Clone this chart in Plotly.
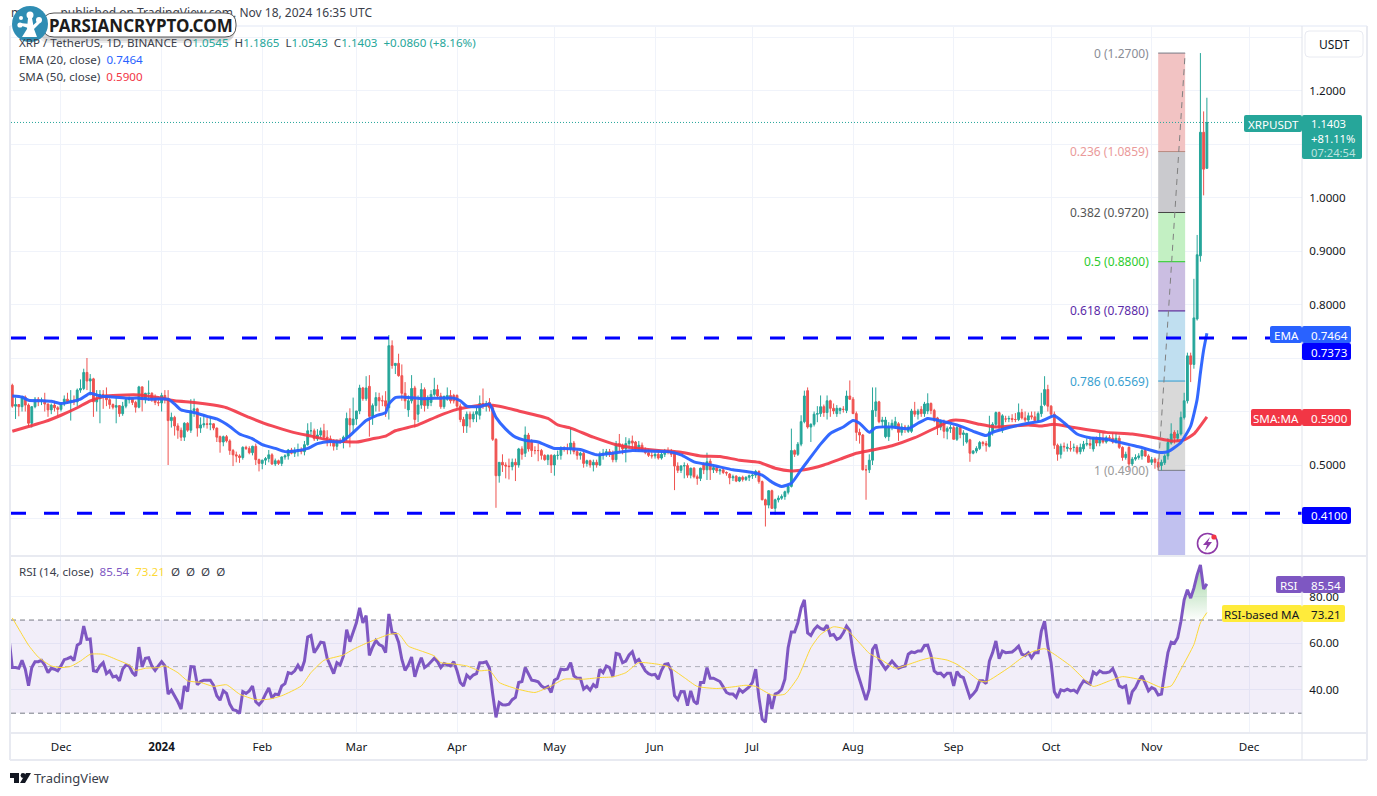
import pandas as pd
import plotly.graph_objects as go

# ---------- data ----------
start_candle = "2023-11-16"
open_price = [
 .649,.610,.613,.609,.627,.612,.578,.609,.623,.620,
 .621,.614,.603,.612,.607,.604,.614,.623,.618,.621,
 .618,.640,.643,.673,.657,.661,.618,.624,.632,.631,
 .622,.613,.608,.611,.596,.610,.622,.624,.617,.608,
 .646,.623,.634,.634,.623,.617,.616,.630,.623,.583,
 .589,.573,.565,.552,.578,.565,.602,.605,.569,.575,
 .577,.576,.577,.569,.553,.543,.553,.545,.527,.519,
 .517,.514,.533,.531,.523,.535,.510,.503,.509,.512,
 .519,.502,.508,.503,.515,.517,.528,.522,.527,.529,
 .525,.538,.564,.564,.549,.556,.564,.552,.549,.543,
 .535,.545,.542,.552,.587,.575,.586,.601,.644,.624,
 .647,.591,.611,.626,.620,.620,.607,.723,.686,.690,
 .667,.634,.603,.620,.644,.595,.612,.641,.611,.617,
 .632,.641,.629,.609,.623,.630,.630,.630,.610,.585,
 .573,.595,.586,.595,.593,.615,.610,.617,.607,.548,
 .480,.505,.500,.498,.497,.505,.500,.530,.522,.556,
 .545,.527,.527,.527,.518,.510,.518,.500,.518,.518,
 .531,.530,.530,.541,.525,.518,.522,.503,.508,.500,
 .505,.500,.519,.520,.525,.522,.510,.540,.537,.530,
 .540,.545,.543,.530,.537,.528,.523,.518,.517,.520,
 .513,.520,.527,.525,.523,.498,.490,.498,.499,.481,
 .494,.478,.475,.501,.491,.507,.491,.495,.489,.491,
 .486,.483,.476,.479,.470,.477,.473,.477,.480,.481,
 .488,.469,.435,.425,.452,.419,.435,.438,.441,.449,
 .460,.527,.520,.539,.581,.639,.571,.576,.595,.596,
 .609,.598,.620,.606,.596,.602,.604,.602,.629,.623,
 .596,.561,.556,.491,.491,.509,.602,.618,.581,.553,
 .553,.571,.571,.577,.561,.571,.563,.563,.601,.595,
 .604,.596,.601,.615,.602,.588,.571,.578,.563,.568,
 .570,.548,.570,.557,.543,.547,.522,.526,.531,.542,
 .540,.535,.562,.576,.598,.565,.586,.586,.587,.585,
 .585,.598,.588,.584,.592,.590,.583,.596,.613,.641,
 .610,.595,.537,.520,.535,.531,.531,.533,.533,.525,
 .530,.539,.540,.530,.551,.541,.550,.543,.551,.550,
 .543,.550,.533,.514,.533,.502,.511,.514,.517,.527,
 .517,.505,.511,.505,.499,.504,.517,.541,.561,.550,
 .558,.589,.620,.704,.688,.773,.891,1.122,1.0545]
high_price = [
 .652,.626,.614,.628,.630,.615,.610,.627,.627,.626,
 .635,.615,.615,.620,.610,.615,.630,.635,.640,.630,
 .643,.660,.680,.700,.670,.663,.640,.640,.640,.645,
 .625,.615,.626,.612,.618,.624,.628,.626,.620,.648,
 .647,.635,.658,.636,.632,.622,.635,.640,.640,.598,
 .592,.578,.570,.580,.580,.623,.624,.607,.589,.595,
 .589,.590,.578,.570,.555,.555,.556,.548,.530,.525,
 .520,.535,.536,.535,.536,.540,.512,.510,.515,.528,
 .522,.512,.510,.516,.520,.530,.532,.533,.540,.533,
 .545,.578,.580,.568,.567,.570,.577,.565,.555,.548,
 .548,.550,.555,.598,.606,.626,.600,.650,.646,.666,
 .668,.615,.636,.635,.630,.638,.743,.733,.690,.708,
 .688,.655,.630,.668,.648,.630,.653,.645,.630,.640,
 .663,.650,.635,.630,.645,.640,.633,.632,.615,.590,
 .600,.600,.600,.610,.630,.643,.620,.625,.612,.550,
 .505,.520,.505,.512,.512,.512,.532,.535,.572,.560,
 .548,.535,.540,.530,.520,.520,.520,.520,.527,.535,
 .535,.540,.570,.545,.530,.525,.525,.510,.510,.510,
 .510,.525,.530,.530,.530,.527,.545,.558,.540,.552,
 .550,.555,.545,.545,.542,.533,.530,.525,.525,.525,
 .525,.530,.533,.530,.525,.505,.500,.505,.503,.495,
 .496,.482,.495,.505,.523,.512,.498,.498,.493,.493,
 .488,.485,.482,.481,.478,.480,.479,.482,.483,.491,
 .490,.471,.437,.453,.454,.437,.443,.445,.452,.462,
 .568,.529,.543,.593,.639,.645,.578,.600,.610,.630,
 .613,.630,.622,.615,.612,.607,.610,.639,.658,.627,
 .600,.568,.558,.500,.520,.645,.645,.620,.590,.590,
 .580,.585,.590,.580,.578,.575,.575,.605,.618,.605,
 .610,.618,.634,.617,.605,.590,.585,.585,.572,.575,
 .574,.573,.575,.565,.560,.549,.528,.535,.545,.545,
 .545,.592,.580,.600,.600,.595,.592,.592,.595,.597,
 .615,.605,.600,.598,.600,.600,.600,.635,.666,.650,
 .612,.600,.540,.540,.542,.540,.545,.540,.537,.540,
 .545,.550,.550,.552,.553,.560,.561,.555,.556,.560,
 .560,.555,.535,.525,.535,.515,.520,.522,.530,.532,
 .520,.515,.514,.512,.510,.520,.550,.578,.565,.565,
 .600,.635,.710,.710,.848,.930,1.27,1.161,1.1865]
low_price = [
 .607,.586,.591,.600,.600,.572,.570,.606,.610,.612,
 .600,.590,.595,.600,.592,.600,.610,.615,.583,.612,
 .610,.635,.640,.640,.630,.590,.600,.578,.605,.610,
 .605,.604,.578,.590,.592,.606,.615,.612,.598,.606,
 .600,.615,.620,.618,.612,.610,.600,.615,.500,.570,
 .555,.549,.545,.545,.562,.560,.590,.553,.560,.570,
 .568,.565,.565,.543,.523,.535,.542,.519,.498,.505,
 .504,.510,.528,.520,.518,.500,.488,.492,.500,.505,
 .500,.498,.500,.498,.510,.510,.520,.515,.516,.520,
 .518,.536,.555,.545,.545,.550,.548,.535,.535,.527,
 .528,.540,.531,.545,.533,.558,.575,.595,.620,.620,
 .553,.575,.600,.600,.610,.590,.585,.680,.670,.665,
 .620,.605,.590,.615,.570,.580,.605,.600,.605,.610,
 .628,.625,.605,.605,.620,.615,.615,.605,.580,.560,
 .560,.570,.580,.580,.585,.605,.600,.600,.545,.420,
 .467,.487,.475,.473,.490,.470,.495,.510,.515,.525,
 .515,.520,.507,.510,.508,.500,.485,.480,.510,.510,
 .525,.520,.520,.520,.510,.510,.495,.497,.495,.488,
 .495,.498,.510,.515,.515,.505,.505,.525,.520,.505,
 .530,.530,.525,.525,.525,.520,.515,.512,.512,.510,
 .510,.515,.520,.515,.453,.485,.485,.475,.476,.475,
 .475,.463,.470,.483,.472,.472,.485,.485,.482,.483,
 .480,.464,.470,.468,.468,.469,.470,.470,.474,.476,
 .465,.434,.385,.419,.418,.407,.430,.435,.435,.445,
 .458,.515,.517,.535,.578,.568,.543,.572,.580,.590,
 .590,.585,.590,.595,.590,.595,.598,.597,.622,.596,
 .545,.540,.490,.435,.485,.500,.590,.578,.570,.550,
 .545,.565,.570,.545,.555,.560,.560,.560,.590,.585,
 .590,.590,.595,.595,.580,.556,.565,.550,.548,.560,
 .548,.545,.550,.536,.540,.506,.520,.522,.528,.535,
 .525,.533,.555,.570,.565,.560,.580,.580,.580,.580,
 .582,.585,.580,.580,.585,.580,.580,.590,.610,.600,
 .590,.530,.508,.512,.525,.525,.525,.525,.520,.520,
 .525,.535,.530,.525,.535,.535,.540,.540,.545,.540,
 .540,.530,.508,.510,.490,.498,.508,.510,.510,.515,
 .505,.500,.493,.490,.490,.500,.510,.538,.540,.545,
 .555,.585,.615,.655,.680,.770,.880,1.004,1.0543]
close_price = [
 .610,.613,.609,.627,.612,.578,.609,.623,.620,.621,
 .614,.603,.612,.607,.604,.614,.623,.618,.621,.618,
 .640,.643,.673,.657,.661,.618,.624,.632,.631,.622,
 .613,.608,.611,.596,.610,.622,.624,.617,.608,.646,
 .623,.634,.634,.623,.617,.616,.630,.623,.583,.589,
 .573,.565,.552,.578,.565,.601,.605,.569,.575,.577,
 .576,.577,.569,.552,.543,.553,.545,.527,.519,.517,
 .514,.533,.531,.523,.535,.510,.503,.509,.512,.519,
 .502,.508,.503,.515,.517,.528,.522,.527,.529,.525,
 .538,.564,.564,.549,.556,.564,.552,.549,.543,.535,
 .545,.542,.552,.587,.575,.586,.601,.644,.624,.644,
 .591,.611,.626,.620,.620,.610,.723,.686,.690,.667,
 .634,.620,.620,.643,.585,.612,.641,.611,.623,.632,
 .641,.629,.609,.628,.630,.620,.620,.610,.585,.573,
 .595,.586,.595,.600,.615,.612,.615,.607,.548,.480,
 .505,.500,.498,.497,.505,.500,.530,.520,.556,.530,
 .527,.527,.527,.518,.510,.518,.500,.518,.518,.531,
 .530,.530,.541,.525,.518,.522,.503,.508,.500,.505,
 .500,.519,.522,.525,.522,.510,.540,.537,.530,.540,
 .545,.541,.530,.537,.528,.523,.518,.517,.520,.513,
 .520,.527,.525,.520,.498,.490,.498,.499,.481,.494,
 .478,.475,.494,.491,.506,.491,.495,.489,.491,.486,
 .485,.476,.478,.470,.477,.473,.477,.480,.481,.488,
 .469,.435,.425,.452,.419,.435,.438,.441,.450,.460,
 .527,.520,.539,.581,.629,.571,.576,.595,.596,.609,
 .598,.620,.606,.601,.606,.606,.604,.629,.623,.596,
 .561,.556,.491,.491,.509,.602,.618,.581,.584,.584,
 .571,.578,.581,.561,.571,.570,.571,.601,.595,.601,
 .596,.614,.615,.602,.584,.571,.581,.563,.568,.570,
 .548,.570,.557,.560,.559,.522,.526,.531,.542,.540,
 .537,.562,.576,.598,.571,.592,.586,.587,.585,.585,
 .598,.588,.584,.592,.590,.583,.596,.610,.641,.610,
 .595,.537,.520,.535,.534,.533,.530,.533,.524,.533,
 .539,.540,.537,.551,.541,.551,.543,.551,.550,.543,
 .550,.533,.514,.520,.502,.511,.514,.517,.527,.517,
 .505,.510,.505,.496,.505,.517,.542,.558,.550,.558,
 .589,.620,.704,.688,.775,.893,1.122,1.053,1.1403]

# moving averages: day offset from 1 Dec 2023, value
ema_days = [-15,-12,-10,-6,-3,0,3,6,9,12,16,20,24,28,33,35,37,41,45,48,52,55,59,62,66,69,72,76,79,83,86,
 89,92,94,97,100,101,103,105,111,117,121,123,125,129,132,134,137,140,143,147,152,155,160,165,170,176,181,187,191,
 195,201,207,213,216,219,222,225,228,230,234,237,241,244,246,249,251,256,261,264,267,272,276,281,285,287,292,298,
 302,306,309,313,317,322,327,332,338,341,345,348,350,351,352,353]
ema_vals = [.629,.627,.621,.620,.619,.615,.618,.623,.634,.629,.627,.625,.625,.623,.623,.614,.603,.598,.591,.586,.572,.558,.549,.538,.531,.525,.526,.531,.540,.544,.543,
 .555,.572,.583,.592,.598,.614,.626,.627,.624,.625,.625,.620,.610,.609,.614,.589,.567,.552,.546,.543,.531,.531,.529,.519,.522,.527,.526,.525,.519,
 .506,.499,.491,.486,.481,.468,.460,.466,.491,.507,.539,.559,.571,.583,.578,.561,.570,.571,.568,.578,.587,.581,.575,.563,.555,.561,.570,.578,
 .582,.592,.579,.558,.551,.548,.541,.534,.524,.525,.542,.573,.623,.672,.715,.7464]
sma_days = [-15,-10,-5,0,5,9,14,20,24,30,35,41,47,51,58,65,71,77,83,91,96,100,103,110,116,122,127,131,135,141,150,153,157,164,171,178,184,
 191,197,203,209,215,220,225,229,235,240,245,250,256,263,270,274,278,283,288,298,302,306,312,322,330,337,342,346,349,353]
sma_vals = [.563,.572,.581,.593,.607,.620,.629,.631,.631,.626,.620,.617,.612,.607,.589,.573,.562,.554,.546,.543,.549,.554,.564,.575,.591,.604,.610,.612,.610,.601,.587,.575,.569,.552,.538,.531,.527,
 .524,.517,.516,.509,.505,.494,.489,.491,.500,.511,.522,.528,.536,.551,.571,.583,.583,.576,.571,.575,.573,.576,.570,.561,.558,.551,.545,.547,.558,.590]

start_rsi = "2023-11-15"
rsi_vals = [
 62,49.6,49.6,49.3,52.7,48.9,41.8,49.6,52.1,52.1,
 52.7,50.6,47.4,49.3,48.9,48.2,50.3,53,53.4,54.1,
 52.7,59.2,60.1,67.4,61.7,61.9,48.2,47.9,50.3,51.7,
 47,48.2,45.6,46,43.9,48.9,50.7,50.3,47.4,46,
 58.4,49.9,53.6,53.8,50.3,48.4,50.3,52.1,50.3,38.2,
 39.9,37.5,34.9,31.8,41.7,39.3,50,49.9,42.2,43.6,
 44.2,44.2,44.2,42,37.5,35.6,39.6,38.5,33.9,31.5,
 31.1,29.9,39.3,38.5,39.6,41.7,34.9,33.6,35.3,38.2,
 40.8,36.5,38.2,37.9,41.7,42.7,47.4,47,48.2,50.6,
 48.2,52.4,62.7,63.4,56,58.1,60.5,60.2,53.6,50.3,
 47,51.7,50.7,54.6,65.9,60.7,64.5,68.8,75.2,68.8,
 71.9,54.8,58.4,61.2,59.5,58.8,56,72.6,64.5,64.2,
 60.5,53.1,48.4,50.7,54.1,45.6,50.3,53.8,49.6,50.6,
 52.1,53.6,52.1,49.6,51.3,50.7,50.3,52.1,48.2,43.2,
 41.7,46.4,45,46.4,47,51.7,51.7,52.1,49.3,38.2,
 28.2,34.6,33.6,33.5,33.9,35.8,36.8,43.2,43.6,49.6,
 47.2,44.2,43.9,43.5,41.7,40.8,41.5,38.9,44.2,45,
 48.9,48.7,48.9,51.7,46,45,45,40.3,41.5,39.9,
 42.3,41,48.9,47.4,50.3,49.6,45.6,55.7,55.3,51.7,
 52.4,55,56.4,52,53.1,50.3,48.2,47,46.4,46.7,
 44.6,48.4,51,51.3,48.2,37.5,35.8,39.3,39.2,33.2,
 39.6,35.1,33.9,43.2,43.2,49.6,45,45,44.2,43.6,
 41.3,38.9,38.2,38.2,36.8,40.3,39,40.3,41.3,43.2,
 48.9,36.8,27.5,26.1,38.2,31.8,38.2,38.9,40.3,44.6,
 58.1,64.9,64.9,68.8,75.2,78.7,64.5,63.4,65.9,67.4,
 66.4,65.9,67.8,63.4,63.8,61.7,62.4,64.5,67.4,65.5,
 56,48.9,44.6,39.6,35.6,40.3,57.4,59.5,53.1,51,
 48.9,50.6,52.4,50.7,49.3,49.9,50.3,55.3,56.3,56,
 56.7,56.7,59.1,59.2,54.8,48.2,47,47.2,45.7,47.2,
 47.2,41.7,47.9,45.9,45.3,41,36.8,38.2,40,43.9,
 43.9,42.7,52.4,56,61,53.4,56.7,56,56.3,56.3,
 57.4,58.8,55.3,54.8,56,53.8,56,56,65.2,69.5,
 58.8,51.7,39.2,36.6,40,39.6,40.3,39.6,39.9,38.9,
 41.7,43.9,43.2,42.5,47.7,46.6,48.2,47.4,47.4,47.7,
 49.1,46,41.7,41,41.7,33.9,39.2,41,43.9,46,
 42.9,39.6,41,40.3,37.8,38.2,47.4,56,60.5,60,
 62.4,69.5,78.7,83,79.4,83.7,89.4,93.7,83.3,85.54]
rsi_ma_days = [-15,-12,-10,-7,-3,0,3,6,9,13,17,21,23,26,30,32,36,39,43,47,51,55,60,64,68,74,77,81,87,90,94,97,101,104,107,111,115,117,
 120,125,129,132,135,140,146,151,155,161,166,170,174,178,184,187,192,196,202,207,211,214,219,223,227,231,234,238,242,246,249,253,257,261,
 265,268,273,276,279,283,285,292,296,299,303,306,311,315,318,323,327,334,339,342,345,349,351,353]
rsi_ma_vals = [70.9,63.8,59.2,54.1,50.3,49.6,50.1,52.4,55.3,55.3,53.1,50.7,48.4,49.3,49.6,50.3,47.4,43.9,43.2,41.5,42.2,38.2,35.8,36,37.5,41.7,47.4,52.7,55,57.4,60,61.7,63.8,64.1,58.8,56.7,54.6,51.7,
 51.3,50.3,48.2,48.4,43.2,40.6,38.9,41.7,44.6,44.6,45.3,45.6,47.4,51.7,51,50,45.3,41.5,40.6,41.3,42,41.5,37.8,38.2,45.3,58.1,63.8,67.1,65.9,60.2,55.7,52.7,49.3,50.9,
 52.8,53.8,52.8,51,48.2,43.9,43.5,49.6,53.8,56.3,57.7,55.3,50.3,44.9,41.5,43.9,45.7,43.9,41,41.7,48.9,59.5,68.8,73.21]

fib_ratios = ["0","0.236","0.382","0.5","0.618","0.786","1"]
fib_prices = [1.27,1.0859,.972,.88,.788,.6569,.49]
fib_fills = ["#f2c3c3","#cacace","#c3f0c3","#cbbee2","#c0dff0","#d9d9d9","#c1c1ef"]
fib_lines = ["#787b86","#b98a80","#444444","#22cc22","#4a148c","#2e9ccf","#787b86"]
fib_text = ["#8a8d96","#ea9a9a","#555555","#2ecc2e","#5b2aa8","#3a9fd0","#9a9a9a"]
support_levels = [.7373,.41]
month_ticks = ["2023-12-01","2024-01-01","2024-02-01","2024-03-01","2024-04-01","2024-05-01","2024-06-01","2024-07-01","2024-08-01","2024-09-01","2024-10-01","2024-11-01","2024-12-01"]
month_labels = ["Dec","<b>2024</b>","Feb","Mar","Apr","May","Jun","Jul","Aug","Sep","Oct","Nov","Dec"]
price_ticks = [.4,.5,.6,.7,.8,.9,1.0,1.1,1.2,1.3]
price_labels = ["","0.5000","","","0.8000","0.9000","1.0000","","1.2000",""]
rsi_ticks = [40,60,80]
rsi_labels = ["40.00","60.00","80.00"]

# ---------- helpers ----------
W, H = 1377, 796
FONT = "Noto Sans"
TEAL, RED, BLUE, SMA_RED, PURPLE, YELLOW = "#26a69a", "#ef5350", "#2962ff", "#f23645", "#7e57c2", "#ffeb3b"
GRID = "#f0f3fa"
BASE = pd.Timestamp("2023-12-01")
def day(d):
    return (BASE + pd.Timedelta(minutes=round(d * 1440))).strftime("%Y-%m-%d %H:%M")
def paper_y(px):
    return 1 - px / H

X_RANGE = [day(-15.4), day(382.3)]
candle_dates = [d.strftime("%Y-%m-%d") for d in pd.date_range(start_candle, periods=len(close_price))]
rsi_dates = [d.strftime("%Y-%m-%d") for d in pd.date_range(start_rsi, periods=len(rsi_vals))]

fig = go.Figure()
fig.add_trace(go.Candlestick(x=candle_dates, open=open_price, high=high_price, low=low_price, close=close_price,
    xaxis="x", yaxis="y", whiskerwidth=0, showlegend=False,
    increasing=dict(line=dict(color=TEAL, width=1), fillcolor=TEAL),
    decreasing=dict(line=dict(color=RED, width=1), fillcolor=RED)))
fig.add_trace(go.Scatter(x=[day(d) for d in sma_days], y=sma_vals, mode="lines", xaxis="x", yaxis="y",
    line=dict(color=SMA_RED, width=3, shape="spline", smoothing=0.5), opacity=.9, showlegend=False))
fig.add_trace(go.Scatter(x=[day(d) for d in ema_days], y=ema_vals, mode="lines", xaxis="x", yaxis="y",
    line=dict(color=BLUE, width=3, shape="spline", smoothing=0.5), opacity=.95, showlegend=False))
fib_days = [338, 346.3]
fig.add_trace(go.Scatter(x=[day(d) for d in fib_days], y=[fib_prices[-1], fib_prices[0]], mode="lines", xaxis="x", yaxis="y",
    line=dict(color="#808080", width=1, dash="6px,5px"), showlegend=False))

# RSI pane
hot = [i for i, v in enumerate(rsi_vals) if v >= 69 and i > 350]
hot_x = [rsi_dates[i] for i in hot]
fig.add_trace(go.Scatter(x=hot_x + hot_x[::-1], y=[rsi_vals[i] for i in hot] + [70] * len(hot), mode="lines",
    fill="toself", line=dict(width=0), xaxis="x2", yaxis="y2", showlegend=False, hoverinfo="skip",
    fillgradient=dict(type="vertical", colorscale=[[0, "rgba(76,175,80,0)"], [1, "rgba(76,175,80,0.55)"]])))
fig.add_trace(go.Scatter(x=rsi_dates, y=rsi_vals, mode="lines", xaxis="x2", yaxis="y2",
    line=dict(color=PURPLE, width=3), showlegend=False))
fig.add_trace(go.Scatter(x=[day(d) for d in rsi_ma_days], y=rsi_ma_vals, mode="lines", xaxis="x2", yaxis="y2",
    line=dict(color="#fdd835", width=1, shape="spline", smoothing=0.5), showlegend=False))
# page-pixel overlay: header text sits beneath the logo shapes
fig.add_trace(go.Scatter(x=[11, 372], y=[14, 14], mode="text", xaxis="x3", yaxis="y3", hoverinfo="skip",
    text=["m", "published on TradingView.com, Nov 18, 2024 16:35 UTC"], textposition=["middle right", "middle left"],
    textfont=dict(family=FONT, size=12, color="#3a3e4a"), showlegend=False))

shapes = []
# fib blocks
fib_edges = fib_prices + [0.3299]
for i, col in enumerate(fib_fills):
    shapes.append(dict(type="rect", xref="x", yref="y", x0=day(fib_days[0]), x1=day(fib_days[1]),
                       y0=fib_edges[i + 1], y1=fib_edges[i], fillcolor=col, line_width=0, layer="between"))
for p, col in zip(fib_prices, fib_lines):
    shapes.append(dict(type="line", xref="x", yref="y", x0=day(fib_days[0]), x1=day(fib_days[1]), y0=p, y1=p,
                       line=dict(color=col, width=1), layer="between"))
# support lines and last price
for p in support_levels:
    shapes.append(dict(type="line", xref="x", yref="y", x0=X_RANGE[0], x1=X_RANGE[1], y0=p, y1=p,
                       line=dict(color="#0000ff", width=3, dash="15px,18px"), layer="above"))
shapes.append(dict(type="line", xref="x", yref="y", x0=X_RANGE[0], x1=X_RANGE[1], y0=close_price[-1], y1=close_price[-1],
                   line=dict(color=TEAL, width=1, dash="1px,2px"), layer="above"))
# RSI band
shapes.append(dict(type="rect", xref="x2", yref="y2", x0=X_RANGE[0], x1=X_RANGE[1], y0=30, y1=70,
                   fillcolor="rgba(126,87,194,0.1)", line_width=0, layer="between"))
for v, c in ((70, "#787b86"), (50, "rgba(120,123,134,0.55)"), (30, "#787b86")):
    shapes.append(dict(type="line", xref="x2", yref="y2", x0=X_RANGE[0], x1=X_RANGE[1], y0=v, y1=v,
                       line=dict(color=c, width=1, dash="5px,4px"), layer="between"))

def px_line(x0, y0, x1, y1, color, width=1):
    shapes.append(dict(type="line", xref="x3", yref="y3", x0=x0, y0=y0, x1=x1, y1=y1,
                       line=dict(color=color, width=width), layer="above"))
def rrect(x0, y0, x1, y1, r, fill, line=None, lw=1, opacity=1.0):
    p = (f"M{x0+r},{y0} L{x1-r},{y0} Q{x1},{y0} {x1},{y0+r} L{x1},{y1-r} Q{x1},{y1} {x1-r},{y1} "
         f"L{x0+r},{y1} Q{x0},{y1} {x0},{y1-r} L{x0},{y0+r} Q{x0},{y0} {x0+r},{y0} Z")
    shapes.append(dict(type="path", path=p, xref="x3", yref="y3", fillcolor=fill, opacity=opacity,
                       line=dict(color=line or fill, width=lw if line else 0), layer="above"))
def poly(points, fill):
    p = "M" + " L".join(f"{x},{y}" for x, y in points) + " Z"
    shapes.append(dict(type="path", path=p, xref="x3", yref="y3", fillcolor=fill, line_width=0, layer="above"))
def circle(cx, cy, r, fill, line=None, lw=0):
    shapes.append(dict(type="circle", xref="x3", yref="y3", x0=cx - r, x1=cx + r, y0=cy - r, y1=cy + r,
                       fillcolor=fill, line=dict(color=line or fill, width=lw), layer="above"))

# chart frame
frame = "#e8eaf1"
px_line(10, 26, 1367, 26, GRID, 2)
px_line(10, 26, 10, 760, frame, 2)
px_line(1367, 26, 1367, 760, frame, 2)
px_line(10, 760, 1367, 760, frame, 2)
px_line(10, 556, 1367, 556, frame, 2)
px_line(10, 733, 1367, 733, frame, 2)
px_line(1302, 26, 1302, 760, "#e0e3eb", 1)
rrect(1305, 31, 1363, 57, 4, "#ffffff", "#e8eaf1", 1)

# value tags
rrect(1244, 115, 1302, 132, 2, TEAL)
rrect(1302, 115, 1362, 159, 2, TEAL)
rrect(1270, 326, 1302, 343, 2, BLUE)
rrect(1302, 326, 1351, 343, 2, BLUE)
rrect(1302, 343, 1351, 360, 2, "#0000ff")
rrect(1251, 409, 1302, 426, 2, SMA_RED)
rrect(1302, 409, 1351, 426, 2, SMA_RED)
rrect(1302, 507, 1351, 524, 2, "#0000ff")
rrect(1276, 576, 1302, 593, 2, PURPLE)
rrect(1302, 576, 1345, 593, 2, PURPLE)
rrect(1222, 605, 1302, 622, 2, YELLOW)
rrect(1302, 605, 1345, 622, 2, YELLOW)

# bolt badge
circle(1207.5, 543.5, 10, "rgba(255,255,255,0)", "#8e3aa8", 1.6)
poly([(1210, 537), (1203, 545), (1207, 545), (1205, 551), (1212, 542), (1208, 542)], "#8e3aa8")
circle(1214, 537, 2.6, SMA_RED)

# watermark logo
rrect(38, 19, 234, 43, 12, "rgba(60,60,60,0.10)")
rrect(40, 18, 235, 41, 11, "rgba(60,60,60,0.12)")
rrect(43, 13, 236, 37, 11, "#ffffff", "#555555", 1)
circle(30, 24, 18, "#2f8db3")
poly([(22, 37), (37, 37), (34, 29), (32, 18), (28, 18), (27, 29)], "#ffffff")
poly([(28, 28), (19, 25), (20, 23), (30, 24)], "#ffffff")
poly([(31, 27), (39, 20), (41, 22), (33, 30)], "#ffffff")
circle(30, 15, 3.5, "#ffffff")
circle(20, 25, 2.6, "#ffffff")
circle(39, 20, 3, "#ffffff")
circle(21, 18, 2, "#ffffff")
# TradingView mark
poly([(10, 773), (19, 773), (19, 783), (14, 783), (14, 778), (10, 778)], "#131722")
circle(23, 775.5, 2.4, "#131722")
poly([(26, 773), (31, 773), (25, 783), (20, 783)], "#131722")

# ---------- texts ----------
ann = []
def text(x, y, s, color="#131722", size=12, anchor="left", opacity=1.0):
    ann.append(dict(x=x, y=y, xref="x3", yref="y3", text=s, showarrow=False, xanchor=anchor, yanchor="middle",
                    align=anchor, opacity=opacity, font=dict(family=FONT, size=size, color=color), borderpad=0))
def tint(s, c):
    return f'<span style="color:{c}">{s}</span>'

dark = "#3a3e4a"
text(48, 25, "<b>PARSIANCRYPTO.COM</b>", "#1c1c1c", 17)
text(18, 42, tint("XRP / TetherUS, 1D, BINANCE", dark) + "  " + tint("O", dark) + tint("1.0545", TEAL) + "  " + tint("H", dark)
     + tint("1.1865", TEAL) + "  " + tint("L", dark) + tint("1.0543", TEAL) + "  " + tint("C", dark) + tint("1.1403", TEAL)
     + "  " + tint("+0.0860 (+8.16%)", TEAL), size=11.6)
text(18, 59, tint("EMA (20, close)", dark) + "  " + tint("0.7464", BLUE), size=11.6)
text(18, 76, tint("SMA (50, close)", dark) + "  " + tint("0.5900", SMA_RED), size=11.6)
text(18, 571, tint("RSI (14, close)", dark) + "  " + tint("85.54", PURPLE) + "  " + tint("73.21", "#fdd835") + "  "
     + tint("Ø  Ø  Ø  Ø", dark), size=11.6)
text(1334, 44, "USDT", "#131722", 12, "center")
for ratio, price, col, level in zip(fib_ratios, fib_prices, fib_text, fib_prices):
    y = 465 - (level - .5) * 535
    text(1150, y, f"{ratio} ({price:.4f})", col, 12, "right")

text(1273, 124, "XRPUSDT", "#ffffff", 11.6, "center")
text(1310, 138, "1.1403<br>+81.11%<br>" + tint("07:24:54", "rgba(255,255,255,0.7)"), "#ffffff", 11.2)
text(1286, 335, "EMA", "#ffffff", 11.6, "center")
text(1310, 335, "0.7464", "#ffffff", 11.6)
text(1310, 352, "0.7373", "#ffffff", 11.6)
text(1276, 418, "SMA:MA", "#ffffff", 11.6, "center")
text(1310, 418, "0.5900", "#ffffff", 11.6)
text(1310, 515, "0.4100", "#ffffff", 11.6)
text(1289, 585, "RSI", "#ffffff", 11.6, "center")
text(1310, 585, "85.54", "#ffffff", 11.6)
text(1262, 614, "RSI-based MA", "#131722", 11.6, "center")
text(1310, 614, "73.21", "#131722", 11.6)
text(33, 778, "TradingView", "#3a3e4a", 13)

axis_font = dict(family=FONT, size=11.6, color="#131722")
fig.update_layout(
    width=W, height=H, margin=dict(l=0, r=0, t=0, b=0), paper_bgcolor="#ffffff", plot_bgcolor="rgba(0,0,0,0)",
    showlegend=False, boxgap=.2, shapes=shapes, annotations=ann, hovermode=False,
    xaxis=dict(domain=[11 / W, 1302 / W], range=X_RANGE, anchor="y", type="date", rangeslider=dict(visible=False),
               tickmode="array", tickvals=month_ticks, showticklabels=False, ticks="", gridcolor=GRID, gridwidth=1,
               zeroline=False, showline=False, fixedrange=True),
    yaxis=dict(domain=[paper_y(556), paper_y(26)], range=[.3299, 1.3206], anchor="x", side="right",
               tickmode="array", tickvals=price_ticks, ticktext=price_labels, tickfont=axis_font, ticks="outside",
               ticklen=4, tickcolor="rgba(0,0,0,0)", gridcolor=GRID, gridwidth=1, zeroline=False, fixedrange=True),
    xaxis2=dict(domain=[11 / W, 1302 / W], range=X_RANGE, anchor="y2", type="date", tickmode="array",
                tickvals=month_ticks, ticktext=month_labels, tickfont=axis_font, ticks="outside", ticklen=3,
                tickcolor="rgba(0,0,0,0)", gridcolor=GRID, gridwidth=1, zeroline=False, fixedrange=True),
    yaxis2=dict(domain=[paper_y(733), paper_y(556)], range=[21.5, 97.5], anchor="x2", side="right",
                tickmode="array", tickvals=rsi_ticks, ticktext=rsi_labels, tickfont=axis_font, ticks="outside",
                ticklen=4, tickcolor="rgba(0,0,0,0)", gridcolor=GRID, gridwidth=1, zeroline=False, fixedrange=True),
    xaxis3=dict(domain=[0, 1], range=[0, W], anchor="y3", visible=False, fixedrange=True),
    yaxis3=dict(domain=[0, 1], range=[H, 0], anchor="x3", visible=False, fixedrange=True),
)

fig.write_html("out.html", config={"displayModeBar": False},
               post_script="document.body.style.margin='0';document.body.style.overflow='hidden';")
